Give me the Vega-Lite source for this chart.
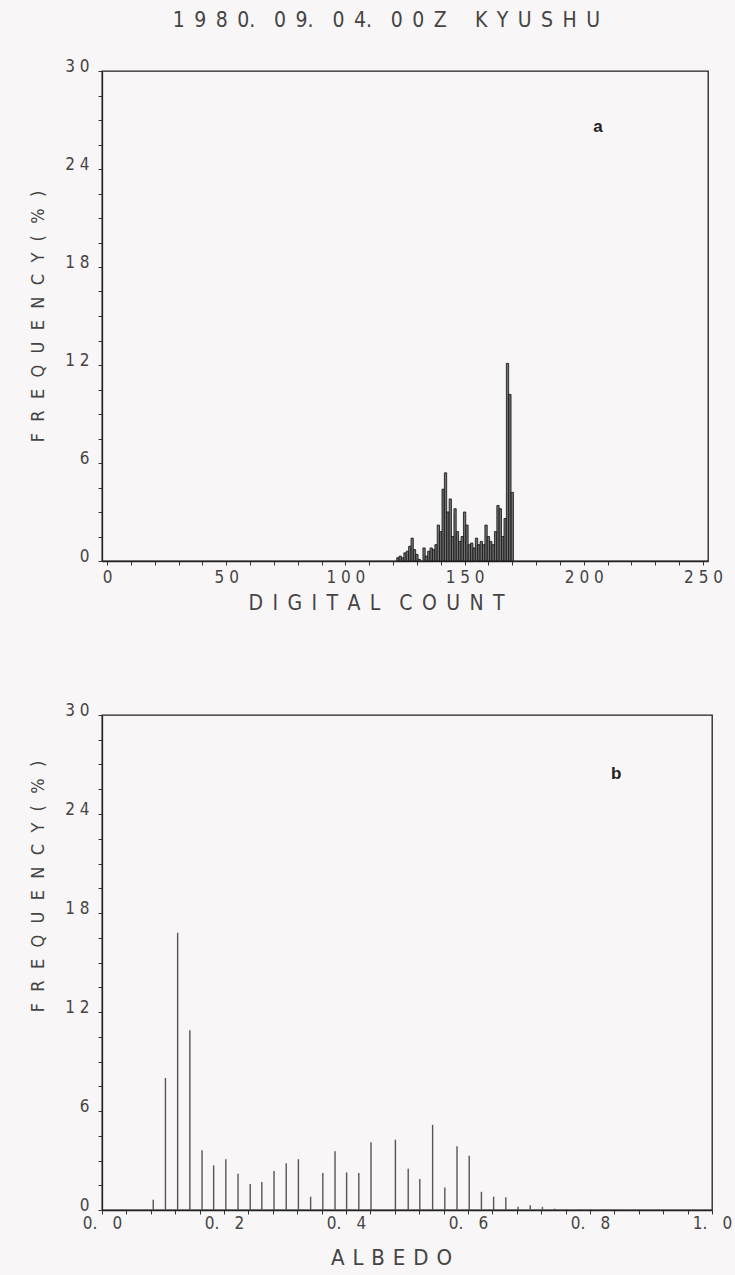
{
  "$schema": "https://vega.github.io/schema/vega-lite/v6.json",
  "background": "#f8f6f7",
  "padding": {"left": 28, "top": 10, "right": 30, "bottom": 30},
  "title": {
    "text": "1\u20029\u20028\u20020.\u20030\u20029.\u20030\u20024.\u20030\u20020\u2002Z\u2003\u2002K\u2002Y\u2002U\u2002S\u2002H\u2002U",
    "font": "DejaVu Sans Condensed, DejaVu Sans, sans-serif",
    "fontSize": 21,
    "fontWeight": "normal",
    "color": "#444",
    "anchor": "middle",
    "dx": 6,
    "offset": 25
  },
  "spacing": 154,
  "bounds": "flush",
  "config": {
    "view": {"stroke": "#222", "strokeWidth": 1.3},
    "axis": {
      "grid": false,
      "domainColor": "#222",
      "domainWidth": 1.3,
      "tickColor": "#333",
      "tickSize": 4,
      "tickCount": 60,
      "labelFont": "DejaVu Sans Condensed, DejaVu Sans, sans-serif",
      "labelFontSize": 17,
      "labelColor": "#444",
      "labelOverlap": false,
      "labelFlush": false,
      "titleFont": "DejaVu Sans Condensed, DejaVu Sans, sans-serif",
      "titleFontWeight": "normal",
      "titleColor": "#444"
    }
  },
  "vconcat": [
    {
      "width": 606,
      "height": 490,
      "layer": [
        {
          "data": {"values": [
            {"count": 122, "freq": 0.2}, {"count": 123, "freq": 0.3}, {"count": 124, "freq": 0.2},
            {"count": 125, "freq": 0.5}, {"count": 126, "freq": 0.6}, {"count": 127, "freq": 0.9},
            {"count": 128, "freq": 1.4}, {"count": 129, "freq": 0.7}, {"count": 130, "freq": 0.4},
            {"count": 131, "freq": 0.1}, {"count": 133, "freq": 0.8}, {"count": 134, "freq": 0.3},
            {"count": 135, "freq": 0.6}, {"count": 136, "freq": 0.8}, {"count": 137, "freq": 0.7},
            {"count": 138, "freq": 1.0}, {"count": 139, "freq": 2.2}, {"count": 140, "freq": 1.8},
            {"count": 141, "freq": 4.4}, {"count": 142, "freq": 5.4}, {"count": 143, "freq": 3.0},
            {"count": 144, "freq": 3.8}, {"count": 145, "freq": 1.5}, {"count": 146, "freq": 3.2},
            {"count": 147, "freq": 1.8}, {"count": 148, "freq": 1.2}, {"count": 149, "freq": 1.5},
            {"count": 150, "freq": 3.0}, {"count": 151, "freq": 2.2}, {"count": 152, "freq": 1.0},
            {"count": 153, "freq": 1.1}, {"count": 154, "freq": 0.8}, {"count": 155, "freq": 1.4},
            {"count": 156, "freq": 1.0}, {"count": 157, "freq": 1.2}, {"count": 158, "freq": 1.0},
            {"count": 159, "freq": 2.2}, {"count": 160, "freq": 1.5}, {"count": 161, "freq": 1.2},
            {"count": 162, "freq": 1.0}, {"count": 163, "freq": 1.8}, {"count": 164, "freq": 3.4},
            {"count": 165, "freq": 3.2}, {"count": 166, "freq": 1.5}, {"count": 167, "freq": 2.6},
            {"count": 168, "freq": 12.1}, {"count": 169, "freq": 10.2}, {"count": 170, "freq": 4.2}
          ]},
          "mark": {"type": "bar", "size": 2.3, "fill": "#707070", "stroke": "#111", "strokeWidth": 0.8},
          "encoding": {
            "x": {
              "field": "count", "type": "quantitative",
              "scale": {"domain": [0, 250], "nice": false},
              "axis": {
                "title": "D\u2002I\u2002G\u2002I\u2002T\u2002A\u2002L\u2003C\u2002O\u2002U\u2002N\u2002T",
                "values": [0,10,20,30,40,50,60,70,80,90,100,110,120,130,140,150,160,170,180,190,200,210,220,230,240,250],
                "tickCount": 60,
                "labelExpr": "datum.value % 50 === 0 ? join(split(format(datum.value, 'd'), ''), '\u00a0') : ''",
                "labelOverlap": false,
                "labelPadding": 4,
                "titleFontSize": 21,
                "titleX": 274,
                "titleY": 42,
                "titleAlign": "center",
                "titleBaseline": "middle"
              }
            },
            "y": {
              "field": "freq", "type": "quantitative",
              "scale": {"domain": [0, 30], "nice": false},
              "axis": {
                "title": "F\u2002\u2009R\u2002\u2009E\u2002\u2009Q\u2002\u2009U\u2002\u2009E\u2002\u2009N\u2002\u2009C\u2002\u2009Y\u2002\u2009(\u2002\u2009%\u2002\u2009)",
                "values": [0,1.5,3,4.5,6,7.5,9,10.5,12,13.5,15,16.5,18,19.5,21,22.5,24,25.5,27,28.5,30],
                "tickCount": 60,
                "labelExpr": "datum.value % 6 === 0 ? join(split(format(datum.value, 'd'), ''), '\u00a0') : ''",
                "labelOverlap": false,
                "labelBaseline": "alphabetic",
                "labelPadding": 9,
                "titleFontSize": 18,
                "titleX": -64,
                "titleBaseline": "middle"
              }
            }
          }
        },
        {
          "data": {"values": [{"count": 206, "freq": 26.6, "label": "a"}]},
          "mark": {"type": "text", "font": "Liberation Sans", "fontWeight": "bold", "fontSize": 17, "color": "#222"},
          "encoding": {
            "x": {"field": "count", "type": "quantitative"},
            "y": {"field": "freq", "type": "quantitative"},
            "text": {"field": "label"}
          }
        }
      ]
    },
    {
      "width": 610,
      "height": 495,
      "layer": [
        {
          "data": {"values": [
            {"albedo": 0.084, "freq": 0.62}, {"albedo": 0.104, "freq": 8.0}, {"albedo": 0.124, "freq": 16.8},
            {"albedo": 0.144, "freq": 10.9}, {"albedo": 0.164, "freq": 3.62}, {"albedo": 0.183, "freq": 2.71},
            {"albedo": 0.203, "freq": 3.08}, {"albedo": 0.223, "freq": 2.2}, {"albedo": 0.243, "freq": 1.57},
            {"albedo": 0.262, "freq": 1.7}, {"albedo": 0.282, "freq": 2.36}, {"albedo": 0.302, "freq": 2.84},
            {"albedo": 0.322, "freq": 3.08}, {"albedo": 0.342, "freq": 0.81}, {"albedo": 0.362, "freq": 2.24},
            {"albedo": 0.382, "freq": 3.56}, {"albedo": 0.401, "freq": 2.28}, {"albedo": 0.421, "freq": 2.24},
            {"albedo": 0.441, "freq": 4.1}, {"albedo": 0.481, "freq": 4.26}, {"albedo": 0.502, "freq": 2.5},
            {"albedo": 0.521, "freq": 1.88}, {"albedo": 0.542, "freq": 5.16}, {"albedo": 0.562, "freq": 1.37},
            {"albedo": 0.582, "freq": 3.87}, {"albedo": 0.602, "freq": 3.29}, {"albedo": 0.622, "freq": 1.1},
            {"albedo": 0.642, "freq": 0.81}, {"albedo": 0.662, "freq": 0.77}, {"albedo": 0.682, "freq": 0.2},
            {"albedo": 0.702, "freq": 0.29}, {"albedo": 0.722, "freq": 0.19}, {"albedo": 0.742, "freq": 0.08},
            {"albedo": 0.762, "freq": 0.06}, {"albedo": 0.782, "freq": 0.05}, {"albedo": 0.802, "freq": 0.04},
            {"albedo": 0.822, "freq": 0.03}, {"albedo": 0.842, "freq": 0.02}
          ]},
          "mark": {"type": "rule", "color": "#555", "strokeWidth": 1.4},
          "encoding": {
            "x": {
              "field": "albedo", "type": "quantitative",
              "scale": {"domain": [0, 1], "nice": false},
              "axis": {
                "title": "A\u2009\u2009L\u2009\u2009B\u2009\u2009E\u2009\u2009D\u2009\u2009O",
                "values": [0,0.04,0.08,0.12,0.16,0.2,0.24,0.28,0.32,0.36,0.4,0.44,0.48,0.52,0.56,0.6,0.64,0.68,0.72,0.76,0.8,0.84,0.88,0.92,0.96,1],
                "tickCount": 60,
                "labelExpr": "abs(datum.value * 5 - round(datum.value * 5)) < 0.001 ? replace(format(datum.value, '.1f'), '.', '.\u2003') : ''",
                "labelOverlap": false,
                "labelPadding": 1,
                "titleFontSize": 22,
                "titleX": 289,
                "titleY": 47,
                "titleAlign": "center",
                "titleBaseline": "middle"
              }
            },
            "y": {
              "field": "freq", "type": "quantitative",
              "scale": {"domain": [0, 30], "nice": false},
              "axis": {
                "title": "F\u2002\u2009R\u2002\u2009E\u2002\u2009Q\u2002\u2009U\u2002\u2009E\u2002\u2009N\u2002\u2009C\u2002\u2009Y\u2002\u2009(\u2002\u2009%\u2002\u2009)",
                "values": [0,1.5,3,4.5,6,7.5,9,10.5,12,13.5,15,16.5,18,19.5,21,22.5,24,25.5,27,28.5,30],
                "tickCount": 60,
                "labelExpr": "datum.value % 6 === 0 ? join(split(format(datum.value, 'd'), ''), '\u00a0') : ''",
                "labelOverlap": false,
                "labelBaseline": "alphabetic",
                "labelPadding": 9,
                "titleFontSize": 18,
                "titleX": -64,
                "titleY": 171,
                "titleBaseline": "middle"
              }
            }
          }
        },
        {
          "data": {"values": [{"albedo": 0.843, "freq": 26.4, "label": "b"}]},
          "mark": {"type": "text", "font": "Liberation Sans", "fontWeight": "bold", "fontSize": 17, "color": "#222"},
          "encoding": {
            "x": {"field": "albedo", "type": "quantitative"},
            "y": {"field": "freq", "type": "quantitative"},
            "text": {"field": "label"}
          }
        }
      ]
    }
  ]
}
